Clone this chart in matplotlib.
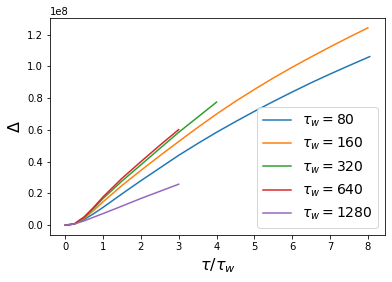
import numpy as np
import matplotlib
matplotlib.use('Agg')
import matplotlib.pyplot as plt

# tau / tau_w values, Delta in units of 1e8
t_80 = [0, 0.25, 0.5, 0.75, 1, 1.5, 2, 2.5, 3, 3.5, 4, 4.5, 5, 5.5, 6, 6.5, 7, 7.5, 8.05]
d_80 = [0, 0.007, 0.036, 0.072, 0.112, 0.197, 0.28, 0.36, 0.44, 0.514, 0.585,
        0.652, 0.717, 0.779, 0.839, 0.897, 0.952, 1.005, 1.062]

t_160 = [0, 0.25, 0.5, 0.75, 1, 1.5, 2, 2.5, 3, 3.5, 4, 4.5, 5, 5.5, 6, 6.5, 7, 7.5, 8]
d_160 = [0, 0.008, 0.043, 0.092, 0.147, 0.25, 0.345, 0.437, 0.527, 0.615, 0.70,
         0.78, 0.855, 0.927, 0.995, 1.06, 1.123, 1.184, 1.243]

t_320 = [0, 0.25, 0.5, 0.75, 1, 1.5, 2, 2.5, 3, 3.5, 4]
d_320 = [0, 0.009, 0.048, 0.105, 0.168, 0.278, 0.38, 0.483, 0.585, 0.68, 0.775]

t_640 = [0, 0.1, 0.25, 0.5, 0.75, 1, 1.5, 2, 2.5, 3]
d_640 = [0, 0.001, 0.01, 0.052, 0.112, 0.178, 0.295, 0.40, 0.503, 0.602]

t_1280 = [0, 0.25, 0.5, 0.75, 1, 1.5, 2, 2.5, 3]
d_1280 = [0, 0.008, 0.027, 0.05, 0.073, 0.12, 0.168, 0.213, 0.258]

series = [(80, t_80, d_80), (160, t_160, d_160), (320, t_320, d_320),
          (640, t_640, d_640), (1280, t_1280, d_1280)]

fig = plt.figure(figsize=(392 / 72, 282 / 72), dpi=72)
ax = fig.add_axes([50 / 392, 47 / 282, 335 / 392, 217 / 282])

for tw, t, d in series:
    ax.plot(t, np.array(d) * 1e8, label=r'$\tau_w = %d$' % tw)

ax.set_xlabel(r'$\tau/\tau_w$', fontsize=16)
ax.set_ylabel(r'$\Delta$', fontsize=16)
ax.set_xticks(range(0, 9))
ax.legend(fontsize=14, loc='lower right')

plt.savefig('out.png', dpi=72)
